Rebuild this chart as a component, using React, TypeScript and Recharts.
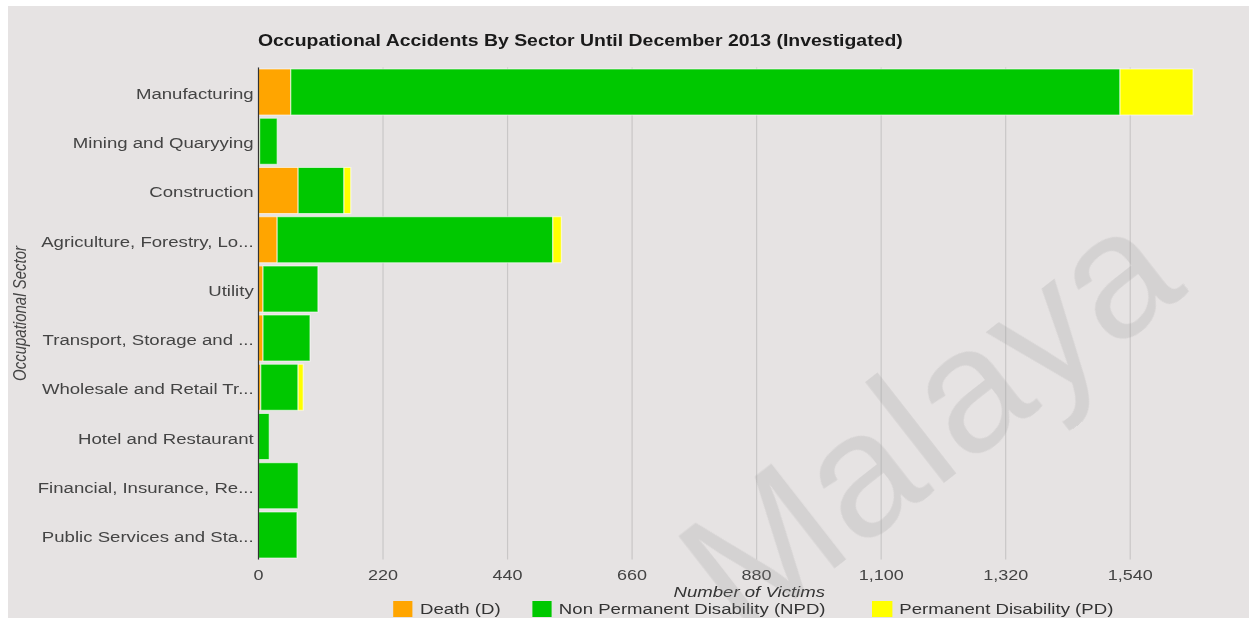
import React from 'react';
import { BarChart, Bar, XAxis, YAxis, CartesianGrid, Legend } from 'recharts';

const sectors = [
  'Manufacturing',
  'Mining and Quaryying',
  'Construction',
  'Agriculture, Forestry, Lo...',
  'Utility',
  'Transport, Storage and ...',
  'Wholesale and Retail Tr...',
  'Hotel and Restaurant',
  'Financial, Insurance, Re...',
  'Public Services and Sta...',
];
const deathValues = [57, 2, 70, 33, 8, 8, 4, 0, 0, 0];
const npdValues = [1465, 31, 81, 487, 97, 83, 66, 19, 70, 68];
const pdValues = [129, 0, 12, 15, 0, 0, 9, 0, 0, 0];
const xTicks = [0, 220, 440, 660, 880, 1100, 1320, 1540];

const seriesNames = ['Death (D)', 'Non Permanent Disability (NPD)', 'Permanent Disability (PD)'];
const seriesColors = ['#FFA500', '#00C800', '#FFFF00'];

const data = sectors.map((s, i) => ({
  sector: s,
  death: deathValues[i],
  npd: npdValues[i],
  pd: pdValues[i],
}));

const FONT = 'Arial, "Liberation Sans", sans-serif';
const STRETCH = 1.2;
const CHART_W = 1241;
const OUTER_W = 1241;
const OUTER_H = 612;
const INNER_W = CHART_W / STRETCH;

const gaps = [26, 39, 0];

const LegendContent = (props: any) => {
  const payload = props.payload || [];
  return (
    <div style={{ display: 'flex', justifyContent: 'center', alignItems: 'center', height: 16, fontFamily: FONT, fontSize: 15.5, color: '#333' }}>
      {payload.map((p: any, i: number) => (
        <div key={i} style={{ display: 'flex', alignItems: 'center', marginRight: gaps[i] }}>
          <div style={{ width: 16.5, height: 16, background: p.color, marginRight: 6 }} />
          <span style={{ lineHeight: '16px', whiteSpace: 'nowrap' }}>{p.value}</span>
        </div>
      ))}
    </div>
  );
};

export default function App() {
  return (
    <div style={{ position: 'relative', width: OUTER_W, height: OUTER_H, marginTop: 6, marginLeft: 8, background: '#E6E3E3', overflow: 'hidden' }}>
      <style>{'html { overflow: hidden; } body { margin: 0; }'}</style>
      <div style={{ position: 'absolute', left: 0, top: 0, width: INNER_W, height: OUTER_H, transform: `scaleX(${STRETCH})`, transformOrigin: '0 0' }}>
        <div style={{ position: 'absolute', left: 208.3, top: 24.5, fontFamily: FONT, fontWeight: 'bold', fontSize: 16.2, lineHeight: '18px', color: '#1a1a1a', whiteSpace: 'nowrap' }}>
          Occupational Accidents By Sector Until December 2013 (Investigated)
        </div>
        <BarChart
          layout="vertical"
          width={INNER_W}
          height={OUTER_H}
          data={data}
          margin={{ top: 61.4, right: INNER_W - 1026.7, bottom: 18.4, left: 0 }}
          barCategoryGap={1.6}
        >
          <CartesianGrid horizontal={false} syncWithTicks={true} stroke="#c9c7c7" strokeWidth={1} />
          <XAxis
            type="number"
            domain={[0, 1734]}
            ticks={xTicks}
            interval={0}
            height={40}
            axisLine={false}
            tickLine={false}
            tickSize={0}
            tickMargin={10}
            tick={{ fill: '#444', fontSize: 15, fontFamily: FONT }}
            tickFormatter={(v: number) => v.toLocaleString('en-US')}
            label={{
              content: (p: any) => {
                const vb = p.viewBox || {};
                return (
                  <text x={vb.x + vb.width / 2} y={vb.y + 37.9} textAnchor="middle" fill="#333" fontSize={15.5} fontStyle="italic" fontFamily={FONT}>
                    Number of Victims
                  </text>
                );
              },
            }}
          />
          <YAxis
            type="category"
            dataKey="sector"
            width={208.75}
            interval={0}
            axisLine={{ stroke: '#333', strokeWidth: 1 }}
            tickLine={false}
            tickSize={0}
            tickMargin={4}
            tick={{ fill: '#444', fontSize: 15.5, fontFamily: FONT, dy: 1.5 }}
            label={{
              content: (p: any) => {
                const vb = p.viewBox || {};
                const cy = vb.y + vb.height / 2;
                return (
                  <text x={10} y={cy} transform={`rotate(-90 10 ${cy})`} textAnchor="middle" dominantBaseline="central" fill="#444" fontSize={15} fontStyle="italic" fontFamily={FONT}>
                    Occupational Sector
                  </text>
                );
              },
            }}
          />
          <Legend
            layout="vertical"
            align="center"
            verticalAlign="middle"
            wrapperStyle={{ top: 595, left: 621 - INNER_W / 2, width: INNER_W, height: 16 }}
            content={<LegendContent />}
          />
          <Bar dataKey="death" name={seriesNames[0]} stackId="a" fill={seriesColors[0]} stroke="rgba(255,255,255,0.6)" strokeWidth={1} isAnimationActive={false} />
          <Bar dataKey="npd" name={seriesNames[1]} stackId="a" fill={seriesColors[1]} stroke="rgba(255,255,255,0.6)" strokeWidth={1} isAnimationActive={false} />
          <Bar dataKey="pd" name={seriesNames[2]} stackId="a" fill={seriesColors[2]} stroke="rgba(255,255,255,0.6)" strokeWidth={1} isAnimationActive={false} />
        </BarChart>
      </div>
      <div
        style={{
          position: 'absolute',
          left: 920,
          top: 412,
          transform: 'translate(-50%, -50%) rotate(-38deg)',
          fontFamily: FONT,
          fontSize: 176,
          lineHeight: 1,
          color: 'rgba(150,150,150,0.22)',
          pointerEvents: 'none',
          whiteSpace: 'nowrap',
        }}
      >
        Malaya
      </div>
    </div>
  );
}
